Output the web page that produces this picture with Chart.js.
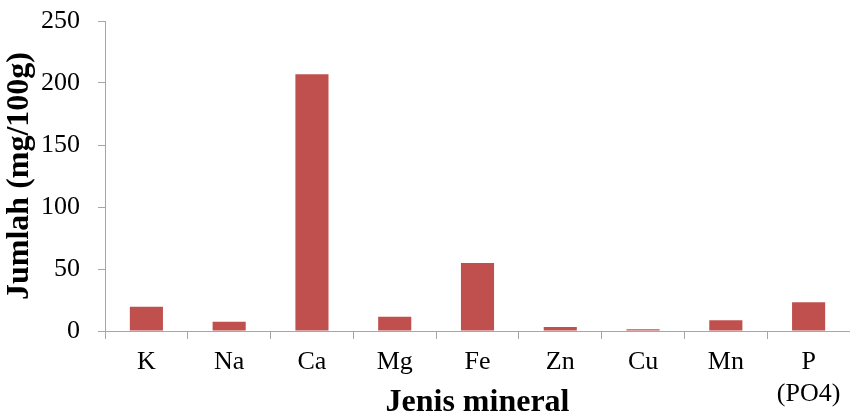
<!DOCTYPE html>
<html>
<head>
<meta charset="utf-8">
<script src="https://cdn.jsdelivr.net/npm/chart.js@4/dist/chart.umd.min.js"></script>
<style>
  html, body { margin: 0; padding: 0; background: #fff; }
  #wrap { width: 850px; height: 415px; }
</style>
</head>
<body>
<div id="wrap"><canvas id="chartMineral"></canvas></div>
<script>
// data
const mineral = ['K', 'Na', 'Ca', 'Mg', 'Fe', 'Zn', 'Cu', 'Mn', ['P', '(PO4)']];
const jumlah = [19.6, 7.5, 207, 11.5, 54.8, 3.2, 1.4, 8.6, 23.1];
const yTicks = [0, 50, 100, 150, 200, 250];

const abuAbu = '#a6a6a6';
const fontSerif = "'Liberation Serif', 'Times New Roman', serif";

new Chart(document.getElementById('chartMineral').getContext('2d'), {
    type: 'bar',
    data: {
        labels: mineral,
        datasets: [{
            label: 'Jumlah',
            data: jumlah,
            backgroundColor: '#C0504D',
            barPercentage: 0.4,
            categoryPercentage: 1
        }]
    },
    options: {
        responsive: true,
        maintainAspectRatio: false,
        animation: false,
        layout: { padding: { top: 21, right: 0, bottom: 0, left: 0 } },
        plugins: { legend: { display: false }, tooltip: { enabled: false } },
        scales: {
            x: {
                grid: { drawOnChartArea: false, drawTicks: true, tickLength: 8, color: abuAbu, offset: true },
                border: { color: abuAbu, width: 1 },
                ticks: {
                    color: '#000',
                    padding: 8,
                    maxRotation: 0,
                    autoSkip: false,
                    font: { family: fontSerif, size: 26, lineHeight: 1.2 }
                },
                title: {
                    display: true,
                    text: 'Jenis mineral',
                    color: '#000',
                    padding: { top: 0, bottom: -4 },
                    font: { family: fontSerif, size: 32, weight: 'bold', lineHeight: 1 }
                },
                afterFit: (scale) => { scale.height = 84; }
            },
            y: {
                min: 0,
                max: 250,
                afterBuildTicks: (scale) => { scale.ticks = yTicks.map(v => ({ value: v })); },
                grid: { drawOnChartArea: false, drawTicks: true, tickLength: 7, color: abuAbu },
                border: { color: abuAbu, width: 1 },
                ticks: {
                    color: '#000',
                    padding: 18,
                    font: { family: fontSerif, size: 26 }
                },
                title: {
                    display: true,
                    text: 'Jumlah (mg/100g)',
                    color: '#000',
                    padding: { top: 4, bottom: 0 },
                    font: { family: fontSerif, size: 32, weight: 'bold', lineHeight: 1 }
                },
                afterFit: (scale) => {
                    scale.width = 105;
                    // label padding should not push the plot top down
                    scale.paddingTop = 14;
                }
            }
        }
    }
});
</script>
</body>
</html>
